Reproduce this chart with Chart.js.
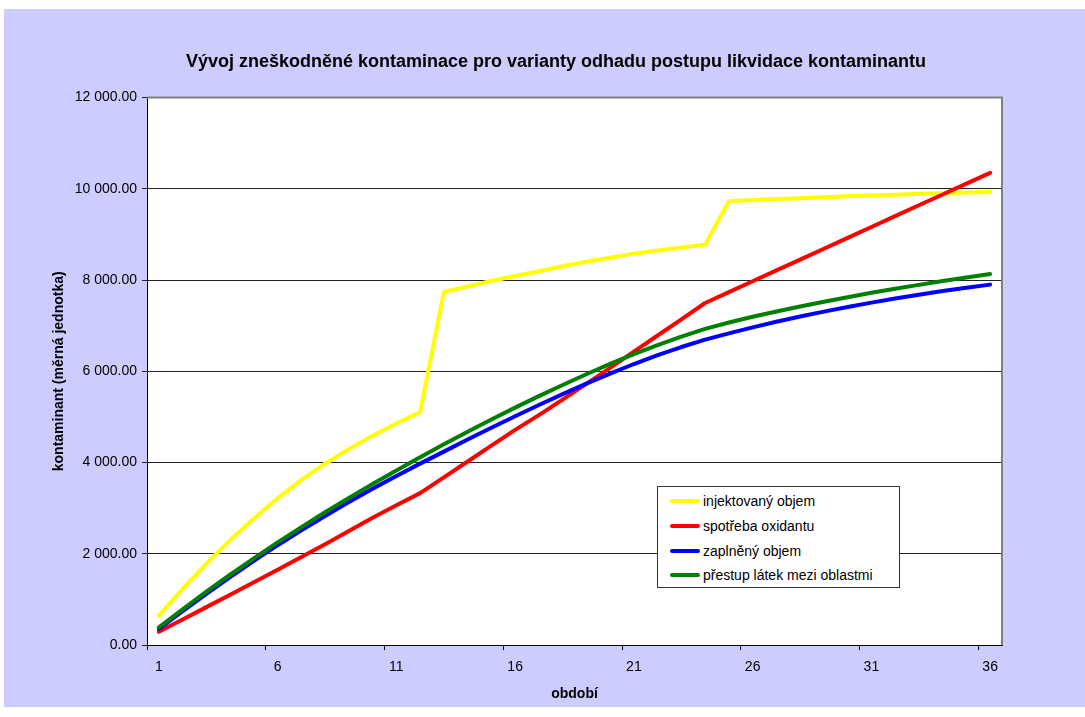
<!DOCTYPE html>
<html>
<head>
<meta charset="utf-8">
<script src="https://cdn.jsdelivr.net/npm/chart.js@4.4.0/dist/chart.umd.min.js"></script>
<style>
    body { margin: 0; background: #fff; }
    #wrap { position: relative; width: 1085px; height: 717px; }
    #legend {
        position: absolute; left: 657px; top: 486px; width: 243px; height: 102px;
        box-sizing: border-box; background: #fff; border: 1px solid #333;
        font-family: "Liberation Sans", Arial, sans-serif; font-size: 14px; color: #000;
        padding-top: 2px;
    }
    .item { display: flex; align-items: center; height: 24.7px; white-space: nowrap; }
    .swatch { width: 30px; height: 4px; margin-left: 12px; margin-right: 3px; border-radius: 2px; }
</style>
</head>
<body>
<div id="wrap">
    <canvas id="chart" width="1085" height="717"></canvas>
    <div id="legend"></div>
</div>
<script>
// --- data ---
const periods = ['1', '2', '3', '4', '5', '6', '7', '8', '9', '10', '11', '12',
    '13', '14', '15', '16', '17', '18', '19', '20', '21', '22', '23', '24',
    '25', '26', '27', '28', '29', '30', '31', '32', '33', '34', '35', '36'];

const injektovanyObjem = [643, 1233, 1785, 2300, 2775, 3215, 3620, 3975, 4295, 4585, 4855, 5105,
    7740, 7860, 7978, 8090, 8195, 8302, 8400, 8490, 8580, 8650, 8715, 8776,
    9730, 9755, 9775, 9795, 9815, 9835, 9855, 9872, 9890, 9905, 9920, 9932];

const spotrebaOxidantu = [290, 560, 830, 1100, 1375, 1650, 1930, 2210, 2500, 2790, 3065, 3330,
    3675, 4022, 4370, 4717, 5040, 5380, 5725, 6075, 6430, 6785, 7140, 7497,
    7735, 7973, 8211, 8449, 8687, 8925, 9163, 9401, 9639, 9877, 10115, 10350];

const zaplnenyObjem = [351, 743, 1123, 1490, 1845, 2188, 2514, 2829, 3134, 3424, 3706, 3976,
    4239, 4505, 4763, 5015, 5260, 5499, 5730, 5951, 6160, 6353, 6532, 6695,
    6832, 6962, 7085, 7200, 7308, 7410, 7505, 7595, 7680, 7760, 7832, 7900];

const prestupLatek = [388, 783, 1168, 1540, 1900, 2248, 2584, 2909, 3224, 3529, 3826, 4116,
    4399, 4675, 4943, 5203, 5455, 5699, 5935, 6161, 6375, 6575, 6760, 6930,
    7070, 7195, 7310, 7420, 7525, 7625, 7720, 7810, 7895, 7978, 8057, 8133];

const seriesNames = ['injektovaný objem', 'spotřeba oxidantu', 'zaplněný objem', 'přestup látek mezi oblastmi'];
const seriesColors = ['#FFFF00', '#FF0000', '#0000FF', '#008000'];
const seriesValues = [injektovanyObjem, spotrebaOxidantu, zaplnenyObjem, prestupLatek];

const yMin = 0, yMax = 12000, yStep = 2000;

function fmt(v) {
    return v.toFixed(2).replace(/\B(?=(\d{3})+(?!\d))/g, ' ');
}

Chart.defaults.font.family = '"Liberation Sans", Arial, sans-serif';
Chart.defaults.color = '#000';

// lavender frame, white plot area, grey top/right edge
const background = {
    id: 'background',
    beforeDraw(chart) {
        const { ctx, chartArea: a } = chart;
        ctx.save();
        ctx.fillStyle = '#fff';
        ctx.fillRect(0, 0, chart.width, chart.height);
        ctx.fillStyle = '#CCCCFF';
        ctx.fillRect(4, 9, 1081, 698);
        ctx.fillStyle = '#fff';
        ctx.fillRect(a.left, a.top, a.right - a.left, a.bottom - a.top);
        ctx.restore();
    },
    afterDraw(chart) {
        const { ctx, chartArea: a } = chart;
        ctx.save();
        ctx.strokeStyle = '#808080';
        ctx.lineWidth = 2;
        ctx.beginPath();
        ctx.moveTo(a.left, a.top);
        ctx.lineTo(a.right, a.top);
        ctx.lineTo(a.right, a.bottom);
        ctx.stroke();
        ctx.restore();
    }
};

const chart = new Chart(document.getElementById('chart'), {
    type: 'line',
    data: {
        labels: periods,
        datasets: seriesValues.map((vals, i) => ({
            label: seriesNames[i],
            data: vals,
            borderColor: seriesColors[i],
            backgroundColor: seriesColors[i],
            borderWidth: 4,
            pointRadius: 0,
            tension: 0,
            borderCapStyle: 'round',
            borderJoinStyle: 'round',
            order: 3 - i
        }))
    },
    options: {
        responsive: false,
        animation: false,
        devicePixelRatio: 1,
        layout: { padding: { left: 27, right: 0, top: 0, bottom: 0 } },
        plugins: {
            legend: { display: false },
            tooltip: { enabled: false },
            title: {
                display: true,
                text: 'Vývoj zneškodněné kontaminace pro varianty odhadu postupu likvidace kontaminantu',
                font: { size: 18, weight: 'bold' },
                color: '#000',
                padding: { top: 51, bottom: 25 }
            }
        },
        scales: {
            x: {
                offset: true,
                grid: {
                    offset: true,
                    drawOnChartArea: false,
                    tickLength: 5,
                    color: ctx => ctx.index % 5 === 0 ? '#000' : 'rgba(0,0,0,0)'
                },
                border: { color: '#000', width: 1 },
                ticks: {
                    autoSkip: false,
                    maxRotation: 0,
                    padding: 9,
                    font: { size: 14 },
                    callback: (v, i) => i % 5 === 0 ? periods[i] : ''
                },
                title: {
                    display: true,
                    text: 'období',
                    font: { size: 14, weight: 'bold' },
                    padding: { top: 0, bottom: 14 }
                },
                afterFit: s => { s.height = 72; }
            },
            y: {
                min: yMin,
                max: yMax,
                ticks: { stepSize: yStep, padding: 5, font: { size: 14 }, callback: v => fmt(v) },
                grid: { color: '#222', tickLength: 5 },
                border: { color: '#000', width: 1 },
                title: {
                    display: true,
                    text: 'kontaminant (měrná jednotka)',
                    font: { size: 14, weight: 'bold' },
                    padding: { top: 24, bottom: 0 }
                },
                afterFit: s => { s.width = 120; }
            },
            yRight: {
                type: 'linear',
                position: 'right',
                grid: { display: false },
                border: { display: false },
                ticks: { display: false },
                afterFit: s => { s.width = 83; }
            }
        }
    },
    plugins: [background]
});

// legend box drawn as html, from the datasets
const legend = document.getElementById('legend');
chart.data.datasets.forEach(ds => {
    const row = document.createElement('div');
    row.className = 'item';
    row.innerHTML = `<span class="swatch" style="background:${ds.borderColor}"></span><span>${ds.label}</span>`;
    legend.appendChild(row);
});
</script>
</body>
</html>
